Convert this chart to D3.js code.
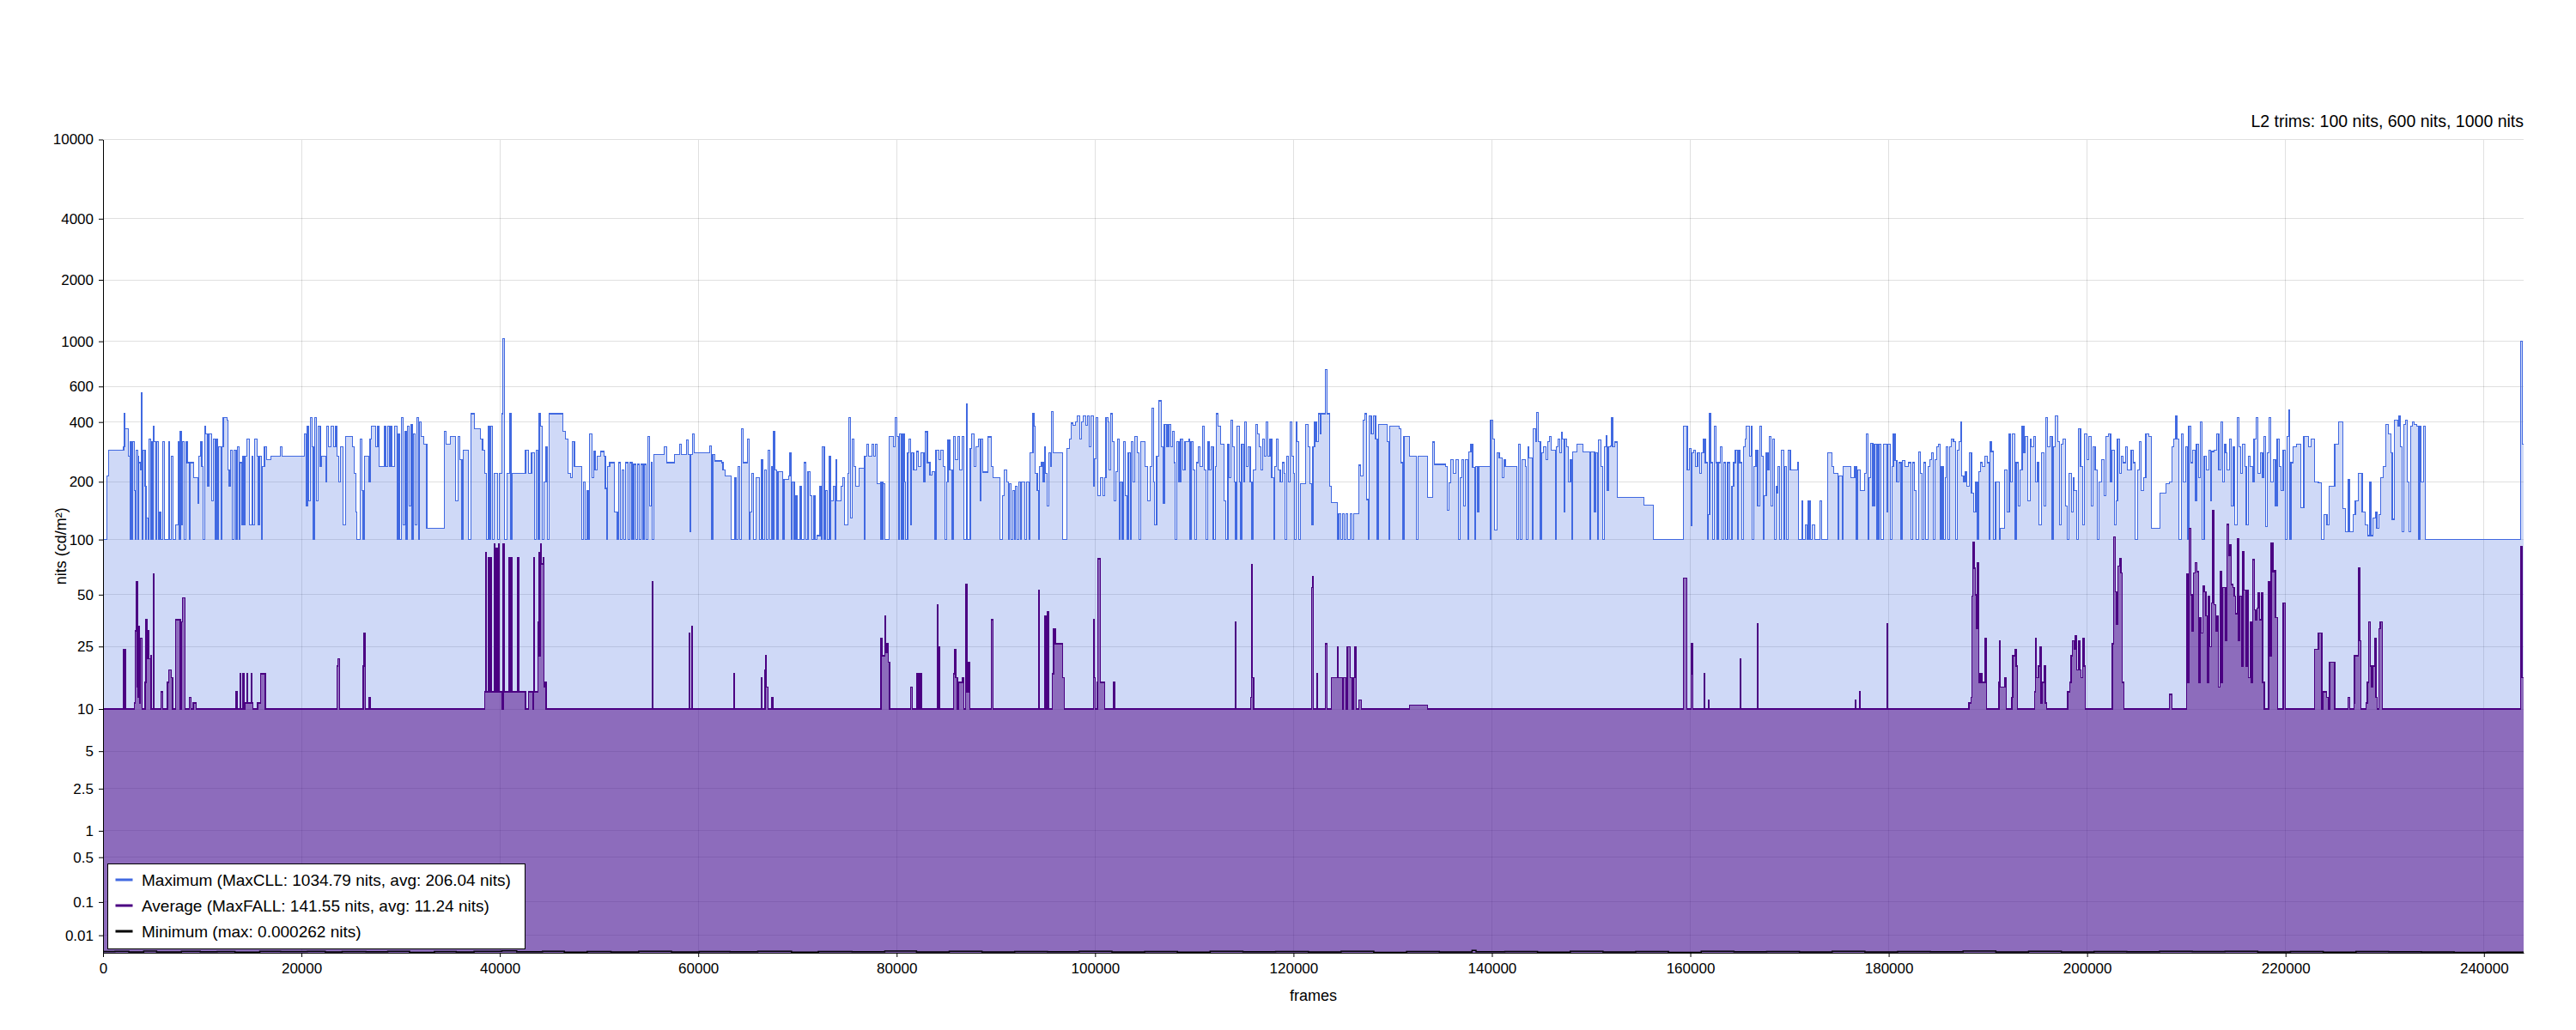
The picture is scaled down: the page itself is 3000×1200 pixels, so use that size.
<!DOCTYPE html>
<html>
<head>
<meta charset="utf-8">
<script src="https://cdn.jsdelivr.net/npm/d3@7"></script>
<style>
  body { margin: 0; background: #fff; }
  svg { display: block; font-family: "Liberation Sans", Arial, sans-serif; }
</style>
</head>
<body>
<div id="chart"></div>
<script>
// Luminance per frame as [frame, nits] steps
const maxSteps = [
  [0,100],[386,215],[540,290],[2083,300],[2160,440],[2237,370],[2546,270],[2700,100],[2777,320],[2931,100],[3008,320],[3163,180],[3240,100],[3356,290],[3471,270],[3548,100],[3626,250],[3780,230],[3857,560],[3934,100],[4011,290],[4243,190],[4320,100],[4397,130],[4513,100],[4628,330],[4783,100],[4860,320],[5014,100],[5091,380],[5168,320],[5323,100],[5400,320],[5554,100],[5708,140],[5863,100],[6017,320],[6171,100],[6634,320],[6711,100],[6865,270],[7020,100],[7328,120],[7560,320],[7675,100],[7791,360],[7907,120],[8023,320],[8177,100],[8331,320],[8485,250],[8717,100],[8794,250],[9103,210],[9565,155],[9643,270],[9797,320],[9951,240],[10105,100],[10260,380],[10375,350],[10491,190],[10645,350],[10954,160],[11108,330],[11262,100],[11417,330],[11571,100],[11648,300],[11880,100],[11957,300],[12111,420],[12497,410],[12574,230],[12728,190],[12882,290],[13037,100],[13191,290],[13422,100],[13577,300],[13731,100],[13808,250],[13962,120],[14039,270],[14194,120],[14348,270],[14502,330],[14733,120],[15042,270],[15119,120],[15273,330],[15505,270],[15659,120],[15813,270],[15968,100],[16045,240],[16276,300],[16508,260],[16893,270],[17896,300],[18050,270],
  [20288,350],[20442,150],[20596,380],[20750,160],[20904,420],[21059,300],[21213,100],[21367,420],[21521,160],[21676,380],[21907,240],[22061,270],[22447,200],[22524,380],[22755,300],[22987,380],[23218,300],[23450,380],[23604,270],[23758,200],[23912,300],[24221,120],[24453,340],[25147,300],[25301,220],[25456,140],[25610,100],[25919,330],[26073,180],[26227,100],[26382,270],[26768,200],[26922,330],[27076,380],[27462,300],[27693,380],[27848,240],[28388,380],[28542,240],[28696,380],[28850,240],[29004,380],[29159,240],[29390,380],[29622,100],[29776,350],[29930,100],[30085,420],[30239,120],[30393,360],[30548,100],[30702,380],[30856,150],[31011,390],[31165,100],[31319,350],[31473,120],[31628,420],[31782,100],[31859,400],[32090,340],[32322,310],[32630,115],[34405,360],[34559,310],[35022,340],[35562,160],[35793,340],[35947,260],[36179,100],[36333,290],[36796,100],[37105,440],[37413,370],[38030,330],[38261,290],[38493,220],[38647,100],[38801,380],[38956,100],[39110,380],[39264,100],[39419,220],[39804,100],[39959,220],[40190,440],[40306,1034.79],[40499,100],[40730,220],[40962,440],[41116,100],[41193,220],[42581,290],[42890,220],[43198,280],[43507,100],[43661,290],[43815,100],[43970,440],[44124,380],[44278,100],[44432,200],[44664,300],[44818,100],[44972,440],[46361,360],[46592,330],[46901,220],[47132,210],[47286,320],[47518,240],[48289,100],[48443,200],[48598,100],[48752,180],[48906,100],[49060,350],[49292,210],
  [49480,285],[49600,230],[49790,270],[50150,285],[50520,270],[50640,185],[50760,100],[50880,240],[51060,250],[51550,140],[51850,100],[51970,250],[52160,100],[52340,230],[52520,100],[52700,250],[52950,100],[53130,250],[53310,100],[53490,245],[53680,100],[53860,245],[54040,100],[54220,245],[54410,100],[54530,245],[54770,100],[54890,340],[55080,150],[55260,250],[55380,100],[55500,275],[56530,300],[56840,250],[57570,275],[58110,310],[58300,275],[58840,325],[58970,275],[59150,110],[59270,275],[59390,350],[59570,280],[61160,305],[61340,100],[61460,275],[61700,255],[62370,250],[62490,230],[62680,215],[63340,100],[63710,210],[63830,100],[64010,240],[64200,100],[64320,370],[64500,250],[64990,330],[65110,100],[65230,140],[65410,220],[65600,100],[65840,210],[66200,100],[66380,260],[66500,100],[66690,230],[66870,100],[67050,290],[67240,100],[67420,240],[67540,100],[67600,360],[67720,230],[67900,100],[68030,225],[68510,100],[68630,205],[69120,215],[69240,280],[69360,100],[69480,200],[69670,100],[69850,170],[69970,100],[70280,190],[70400,100],[70700,250],[70880,100],[71070,225],[71250,170],[71430,100],[71670,170],[71800,100],[71980,105],[72280,190],[72400,100],[72520,300],[72710,100],[72830,180],[73010,100],[73190,270],[73320,100],[73380,160],[73620,190],[73800,100],[73860,260],[73980,160],[74410,190],[74590,210],[74710,120],[75080,220],[75200,420],[75320,130],[75500,330],[75690,240],[75870,190],[76230,235],[76720,100],[76780,270],[76960,310],[77150,270],[77510,310],[77690,270],[77880,310],[78060,195],[78360,100],[78420,200],[78600,100],[78670,195],[78790,100],[79210,340],[79700,300],[79820,420],[80000,340],[80190,100],[80310,350],[80490,100],[80670,350],[80790,200],[80920,100],[81100,280],[81220,330],[81400,120],[81520,280],[81700,230],
  [82010,285],[82190,240],[82440,280],[82740,200],[82860,358],[83100,250],[83350,216],[83590,225],[83830,100],[83960,290],[84260,260],[84440,288],[84690,240],[84870,100],[85050,200],[85170,326],[85350,230],[85600,100],[85720,340],[85900,260],[86140,340],[86330,230],[86570,340],[86750,100],[87000,490],[87120,100],[87420,296],[87540,350],[87790,240],[87970,300],[88210,330],[88390,160],[88520,330],[88700,224],[89180,337],[89550,240],[89730,210],[90400,100],[90640,170],[90830,230],[91130,200],[91250,100],[91370,195],[91560,100],[91680,181],[91860,100],[91980,190],[92160,100],[92280,200],[92470,100],[92590,200],[92950,100],[93080,200],[93320,100],[93440,280],[93740,440],[93870,380],[93990,220],[94170,180],[94290,100],[94410,240],[94600,250],[94780,200],[94900,300],[95020,220],[95200,150],[95320,280],[95510,240],[95630,450],[95750,280],[96720,100],
  [97140,295],[97390,330],[97570,395],[97750,385],[98050,400],[98180,430],[98480,330],[98660,400],[98780,430],[99090,385],[99270,430],[99390,300],[99570,430],[99820,190],[99940,262],[100120,420],[100300,170],[100550,210],[100790,170],[100970,210],[101090,420],[101280,400],[101400,230],[101580,440],[101760,320],[101950,160],[102070,225],[102250,330],[102430,100],[102550,200],[102740,100],[102860,320],[103040,170],[103220,100],[103340,280],[103530,100],[103650,320],[103830,200],[104010,340],[104260,280],[104440,100],[104620,320],[105050,240],[105290,160],[105530,240],[105720,470],[105900,200],[106020,120],[106200,270],[106440,510],[106690,300],[106870,155],[106990,390],[107240,300],[107420,390],[107600,300],[107780,360],[107960,250],[108090,100],[108210,320],[108450,200],[108630,330],[108820,230],[109060,320],[109420,330],[109550,100],[109670,320],[109910,230],[110030,100],[110210,250],[110400,300],[110580,240],[110820,380],[111000,230],[111190,100],[111370,320],[111490,230],[111730,300],[111920,100],[112100,240],[112220,440],[112400,380],[112650,310],[113010,160],[113190,100],[113380,310],[113500,210],[113680,410],[113860,300],[114040,200],[114170,100],[114290,380],[114530,200],[114650,100],[114770,310],[114960,200],[115080,400],[115260,240],[115440,300],[115630,200],[115810,100],[115930,230],[116230,390],[116360,350],[116540,300],[116720,230],[116900,330],[117080,270],[117210,400],[117390,270],[117630,330],[117810,210],[118000,100],[118120,240],[118300,330],[118480,230],[118670,200],[118850,250],[119030,220],[119150,100],[119330,270],[119520,200],[119640,400],[119820,270],[120000,220],[120120,100],[120250,400],[120370,320],[120550,100],[120670,195],[121220,390],[121460,300],[121640,195],[121830,120],[121950,300],[122130,400],[122310,320],[122500,440],[122680,350],[122800,440],[123230,730],[123410,440],[123650,190],[123830,156],[124440,100],[124560,137],[124740,100],[124930,137],[125110,100],[125290,137],[125480,100],[125720,137],[125900,100],[126080,137],[126570,243],[126750,215],[126990,410],[127180,440],[127360,162],[127540,100],[127660,430],[127840,350],[128090,430],[128270,330],[128450,100],[128580,390],[129430,320],[129610,100],[129730,380],[130640,370],[130830,250],[131010,100],[131130,340],[131680,270],[132410,100],[132530,270],[133500,166],[134050,318],[134230,245],[135320,240],[135510,142],[135690,197],[135870,260],[136120,220],[136360,260],[136600,100],[136780,210],[136970,260],[137150,150],[137330,260],[137570,100],[137700,283],[137880,310],[138060,237],[138240,100],[138370,240],[138550,140],[138670,240],[139820,100],[139880,410],[140070,330],[140250,112],[140490,280],[140740,265],[141040,210],[141220,260],[141340,240],[142500,100],[142680,310],[142860,100],[143050,260],[143350,240],[143470,100],[143650,300],
  [143730,265],[144040,100],[144160,370],[144400,320],[144520,447],[144700,320],[144890,100],[145010,280],[145190,300],[145430,260],[145610,320],[145820,340],[146000,290],[146400,100],[146520,300],[146640,330],[146820,280],[147000,356],[147130,330],[147250,140],[147370,330],[147560,300],[147740,200],[147920,260],[148040,100],[148160,283],[148590,310],[149200,283],[149860,100],[149980,283],[150350,140],[150470,280],[150650,100],[150770,326],[151010,240],[151200,100],[151320,300],[151500,343],[151620,180],[151740,300],[151930,305],[152050,420],[152170,300],[152410,318],[152650,166],[155330,151],[156300,100],[159330,380],[159700,230],[159880,296],[160060,118],[160180,280],[160360,290],[160550,240],[160730,280],[160970,220],[161150,280],[161340,330],[161520,250],[161700,100],[161820,135],[161940,440],[162060,250],[162250,100],[162430,380],[162610,250],[162730,100],[162850,250],[163040,300],[163220,100],[163340,250],[163580,100],[163760,250],[164010,100],[164190,190],[164370,250],[164550,290],[164730,100],[164860,290],[164980,250],[165160,100],[165340,300],[165520,330],[165650,380],[165950,270],[166130,380],[166250,100],[166430,240],[166620,290],[166800,150],[166980,380],[167160,270],[167340,100],[167470,170],[167650,280],[167830,230],[167950,340],[168130,150],[168320,330],[168500,100],[168620,190],[168740,175],[168860,240],[168980,100],[169170,290],[169410,100],[169530,240],[169710,100],[169890,290],[170080,230],[170800,250],[170930,100],[171230,160],[171350,100],[171590,120],[171780,100],[171900,160],[172080,100],[172320,120],[172560,100],[173050,160],[173230,100],[173840,280],[174260,240],[174450,220],[174870,100],[174990,215],[175300,100],[175420,240],[176210,210],[176570,240],[176750,100],[176870,230],[177120,180],[177600,220],[177720,350],[177910,100],[178030,210],[178150,314],[178390,150],[178570,310],[178820,100],[179000,310],[179240,100],[179480,310],[179790,140],[179910,310],[180150,100],[180330,240],[180460,348],[180640,257],[180820,200],[181000,250],[181250,100],[181370,257],[181670,240],[181970,250],[182220,100],[182400,250],[182580,180],[182760,100],[183010,283],[183190,220],[183370,100],[183550,250],[183730,100],[183980,240],[184160,260],[184340,280],[184520,100],[184640,260],[184830,300],[185010,310],[185190,100],[185310,240],[185490,100],[185680,210],[185800,300],[185980,100],[186160,300],[186340,330],[186530,320],[186710,100],[186890,290],[187070,320],[187250,400],[187380,215],[187560,200],[187740,225],[187860,190],[188100,280],[188350,175],[188530,140],[188770,200],[188950,100],[189080,225],[189260,250],[189440,240],[189680,270],[189930,250],[190110,100],[190230,320],
  [190330,285],[190520,100],[190760,200],[191140,100],[191220,115],[191680,230],[191920,140],[192150,350],[192300,200],[192460,350],[192690,100],[192840,250],[193080,150],[193230,230],[193460,380],[193620,280],[193770,340],[194000,160],[194240,330],[194390,300],[194620,340],[194780,200],[195010,250],[195170,120],[195400,280],[195630,150],[195860,420],[196020,300],[196250,340],[196480,100],[196630,300],[196790,430],[197020,320],[197250,120],[197410,310],[197560,330],[197790,150],[198030,100],[198180,220],[198410,140],[198570,210],[198720,180],[198960,100],[199110,370],[199340,240],[199570,120],[199730,350],[199960,260],[200190,340],[200430,150],[200580,300],[200810,230],[201040,100],[201200,200],[201430,260],[201740,170],[201900,340],[202130,350],[202360,200],[202510,290],[202750,120],[202900,160],[203060,330],[203290,220],[203440,270],[203600,250],[203910,300],[204060,230],[204450,290],[204680,250],[204840,100],[205070,230],[205300,320],[205460,180],[205690,210],[205920,350],[206230,340],[206460,115],[207310,175],[207930,195],[208320,200],[208550,300],[208700,330],[208940,430],[209090,330],[209240,100],[209480,350],[209710,200],[209940,300],[210100,100],[210250,380],[210480,250],[210640,290],[210870,160],[211030,310],[211260,210],[211410,400],[211570,100],[211800,270],[212030,230],[212260,290],[212420,160],[212570,285],[212800,290],[213040,350],[213270,230],[213500,400],[213650,200],[213810,310],[213960,280],[214120,230],[214350,330],[214510,150],[214740,300],[214890,120],[215120,420],[215280,300],[215510,220],[215670,310],[215900,240],[216050,120],[216290,270],[216440,240],[216670,200],[216830,330],[217060,420],[217210,220],[217450,280],[217680,210],[217830,340],[217990,117],[218140,280],[218370,420],[218530,200],[218760,260],[218990,150],[219150,330],[219380,240],[219530,180],[219770,290],[220000,100],[220150,340],[220310,460],[220380,100],[220540,250],[220770,300],[221080,310],[221550,147],[221850,340],[222310,300],[222550,330],[222940,200],[223320,197],[223630,100],[223870,135],[224180,120],[224410,190],[224950,310],[225340,400],[225800,145],[226030,110],[226340,205],[226500,110],[226810,135],[227040,160],[227350,220],[227730,140],[228040,120],[228280,105],[228430,200],[228590,105],[228820,130],[229050,140],[229200,115],[229440,135],[229590,210],[229820,240],[230130,390],[230360,350],[230600,280],[230750,128],[230980,410],[231290,380],[231450,430],[231600,300],[231760,110],[231910,390],[232070,410],[232300,200],[232450,110],[232610,380],[232760,400],[232990,390],[233230,380],[233380,100],[233530,380],[233690,200],[233920,380],[234070,100],[243670,1000],[243880,310],[244000,310]
];

const avgSteps = [
  [0,10],[2080,24],[2240,10],[3160,11],[3240,31],[3320,52],[3390,59],[3470,14],[3550,12],[3630,33],[3700,11],[3780,28],[3930,10],[4240,15],[4320,36],[4440,21],[4550,31],[4630,21],[4780,22],[4860,10],[5090,65],[5170,10],[5860,13],[6020,10],[6480,15],[6630,18],[6870,16],[7020,10],[7330,36],[7790,10],[7870,35],[8020,48],[8250,10],[8720,12],[8870,10],[9100,11],[9410,10],[13350,13],[13500,10],[13810,17],[13890,10],[14120,17],[14190,10],[14350,11],[14500,17],[14580,11],[14970,17],[15040,11],[15120,10],[15580,11],[15890,17],[16350,10],[23600,19],[23680,21],[23840,10],[26230,19],[26310,30],[26460,10],[26770,12],[26920,10],
  [38490,13],[38570,85],[38650,13],[38880,80],[38960,13],[39110,80],[39190,13],[39420,95],[39500,13],[39650,90],[39730,13],[39880,95],[39960,13],[40190,10],[40340,95],[40420,13],[40880,80],[40960,13],[41110,80],[41190,13],[41810,80],[41890,13],[42580,10],[42890,13],[43350,10],[43430,80],[43510,13],[43820,35],[43890,22],[43970,85],[44050,22],[44120,95],[44200,74],[44350,80],[44430,14],[44590,15],[44660,10],
  [55380,59],[55440,10],[59090,30],[59150,10],[59330,33],[59390,10],[63590,17],[63650,10],[66380,16],[66440,10],[66750,18],[66810,22],[66870,14],[67050,10],[67420,12],[67540,10],
  [78420,28],[78540,22],[78790,38],[78910,23],[79030,26],[79150,20],[79270,10],[81400,14],[81580,10],[82010,17],[82130,10],[82310,17],[82500,10],[84140,44],[84200,25],[84320,10],[85720,17],[85840,24],[85960,16],[86140,10],[86260,15],[86630,16],[86750,10],[86930,57],[87060,13],[87240,20],[87360,10],[89550,36],[89730,10],
  [94290,53],[94410,10],[94960,38],[95080,10],[95200,40],[95320,10],[95690,17],[95810,32],[95990,26],[96720,16],[96900,10],[99820,36],[99880,16],[100000,10],[100240,15],[100300,79],[100550,15],[100970,10],[101880,15],[102010,10],[114110,35],[114170,10],[115690,12],[115750,73],[115810,16],[116000,10],[121830,55],[121950,63],[122010,10],[122370,17],[122440,10],[123230,26],[123410,10],[123830,16],[124440,25],[124500,16],[124930,10],[125050,16],[125290,10],[125410,25],[125720,16],[125900,10],[126020,16],[126200,25],[126330,10],[126570,11.5],[126870,10],[131680,10.6],[133500,10],
  [159330,62],[159640,10],[160060,17],[160120,26],[160240,10],[161400,17],[161460,10],[161820,11.5],[161880,10],[165040,21],[165100,10],[166740,34],[166800,12],[166860,10],[176630,11.5],[176690,10],[177060,13],[177120,10],[179850,34],[179910,10],
  [188100,11],[188280,12],[188410,49],[188470,97],[188590,70],[188710,50],[188830,32],[188950,75],[189080,15],[189200,17],[189380,15],[189740,28],[189860,10],
  [191130,15],[191210,27],[191270,14],[191710,16],[191850,10],[192420,12],[192500,22],[192720,24],[192860,19],[193000,10],[194720,13],[194790,28],[194860,16],[195080,19],[195230,25],[195370,11],[195510,15],[195660,19],[195800,11],[195940,10],[198030,13],[198240,15],[198380,22],[198530,27],[198670,24],[198810,29],[198960,18],[199100,27],[199250,18],[199390,16],[199530,28],[199680,19],[199820,10],[202550,26],[202690,103],[202840,52],[202980,34],[203120,72],[203270,79],[203410,66],[203550,15],[203700,10],[208290,12.5],[208580,10],
  [210020,65],[210160,15],[210300,115],[210450,50],[210590,31],[210730,66],[210880,75],[211090,67],[211240,15],[211380,37],[211520,30],[211670,56],[211810,52],[211960,38],[212100,15],[212240,49],[212380,25],[212530,45],[212670,141.55],[212820,44],[212960,31],[213100,38],[213250,14],[213390,67],[213540,15],[213680,55],[213970,27],[214110,120],[214250,82],[214400,94],[214540,57],[214680,55],[214830,49],[214970,39],[215120,101],[215260,27],[215400,49],[215550,19],[215690,86],[215830,53],[215980,19],[216120,53],[216260,16],[216410,35],[216550,15],[216690,78],[216840,41],[216980,36],[217130,42],[217270,51],[217410,36],[217560,51],[217700,15],[217850,10],[218280,59],[218420,22],[218560,96],[218710,67],[218850,68],[218990,37],[219210,10],[219780,45],[219990,10],
  [222940,24],[223300,30],[223660,10],[223800,13],[224160,12],[224300,10],[224440,20],[224950,10],[226310,12],[226460,10],[226890,11],[226960,22],[227320,70],[227460,27],[227610,10],[228110,11],[228260,15],[228400,35],[228540,19],[228690,14],[228830,19],[228970,28],[229110,12],[229260,10],[229400,32],[229540,35],[229760,10],[243690,92],[243830,16],[244000,16]
];

const minSteps = [
  [0,0.00008],[1200,0.00012],[2600,0.00005],[4100,0.00015],[5400,0.00004],[7900,0.00012],[9800,0.00006],[11500,0.0001],[13300,0.00003],[15800,0.00012],[17900,0.00008],[20600,0.00013],[22400,0.00004],[24100,0.0001],[26500,0.00006],[28700,0.00012],[30900,0.00002],[33400,0.00009],[35600,0.00005],[37400,0.00012],[40200,0.00018],[41700,0.00007],[44300,0.00012],[46500,0.00003],[48800,0.0001],[51200,0.00005],[54000,0.00012],[57300,0.00004],[60100,0.0001],[63200,0.00006],[66000,0.00012],[69400,0.00003],[72100,0.0001],[75500,0.00007],[78800,0.00014],[82000,0.00005],[85300,0.00011],[88600,0.00004],[91900,0.0001],[95200,0.00006],[98400,0.00012],[101700,0.00005],[105000,0.0001],[108300,0.00003],[111600,0.00012],[114900,0.00006],[118200,0.0001],[121500,0.00004],[124800,0.00012],[128100,0.00002],[131400,0.00008],[134700,0.00004],[138000,0.000262],[138400,0.00006],[141300,0.0001],[144600,0.00003],[147900,0.00011],[151200,0.00005],[154500,0.00009],[157800,0.00002],[161100,0.00012],[164400,0.00006],[167700,0.0001],[171000,0.00004],[174300,0.00012],[177600,0.00005],[180900,0.0001],[184200,0.00007],[187500,0.00014],[190800,0.00005],[194100,0.00011],[197400,0.00004],[200700,0.0001],[204000,0.00006],[207300,0.00012],[210600,0.00008],[213900,0.00013],[217200,0.00005],[220500,0.0001],[223800,0.00003],[227100,0.00009],[230400,0.00006],[233700,0.00004],[237000,0.00002],[240300,0.00003],[244000,0.00003]
];

const yTicks = [0.01, 0.1, 0.5, 1, 2.5, 5, 10, 25, 50, 100, 200, 400, 600, 1000, 2000, 4000, 10000];
const xTicks = [0, 20000, 40000, 60000, 80000, 100000, 120000, 140000, 160000, 180000, 200000, 220000, 240000];
const frameCount = 244000;

const legendItems = [
  {label: "Maximum (MaxCLL: 1034.79 nits, avg: 206.04 nits)", color: "royalblue"},
  {label: "Average (MaxFALL: 141.55 nits, avg: 11.24 nits)", color: "indigo"},
  {label: "Minimum (max: 0.000262 nits)", color: "black"}
];
const captionText = "L2 trims: 100 nits, 600 nits, 1000 nits";

const width = 3000;
const height = 1200;
const margin = {left: 120, right: 61, top: 162.5, bottom: 90};
const font = '"Liberation Sans", Arial, sans-serif';

// ST 2084 inverse EOTF, nits -> signal 0..1
function pq(nits) {
    const m1 = 0.1593017578125, m2 = 78.84375;
    const c1 = 0.8359375, c2 = 18.8515625, c3 = 18.6875;
    const yp = Math.pow(Math.max(nits, 0) / 10000, m1);
    return Math.pow((c1 + c2 * yp) / (1 + c3 * yp), m2);
}

function drawChart() {
    const svg = d3.select("#chart").append("svg")
        .attr("width", width)
        .attr("height", height)
        .style("font-family", font);

    svg.append("rect").attr("width", width).attr("height", height).attr("fill", "#fff");

    const x = d3.scaleLinear().domain([0, frameCount]).range([margin.left, width - margin.right]);
    const ySignal = d3.scaleLinear().domain([0, 1]).range([height - margin.bottom, margin.top]);
    const y = v => ySignal(pq(v));

    // Grid
    const grid = svg.append("g")
        .attr("stroke", "#000").attr("stroke-opacity", 0.12).attr("stroke-width", 1)
        .attr("shape-rendering", "crispEdges");
    grid.selectAll("line.h").data(yTicks).join("line")
        .attr("class", "h")
        .attr("x1", margin.left).attr("x2", width - margin.right)
        .attr("y1", d => y(d)).attr("y2", d => y(d));
    grid.selectAll("line.v").data(xTicks.filter(d => d > 0)).join("line")
        .attr("class", "v")
        .attr("x1", d => x(d)).attr("x2", d => x(d))
        .attr("y1", margin.top).attr("y2", height - margin.bottom);

    const area = d3.area()
        .curve(d3.curveStepAfter)
        .x(d => x(d[0]))
        .y0(height - margin.bottom)
        .y1(d => y(d[1]));
    const line = d3.line()
        .curve(d3.curveStepAfter)
        .x(d => x(d[0]))
        .y(d => y(d[1]));

    // Maximum
    svg.append("path").datum(maxSteps)
        .attr("d", area).attr("fill", "royalblue").attr("fill-opacity", 0.25);
    svg.append("path").datum(maxSteps)
        .attr("d", line).attr("fill", "none").attr("stroke", "royalblue")
        .attr("stroke-width", 1.2).attr("shape-rendering", "crispEdges");

    // Average
    svg.append("path").datum(avgSteps)
        .attr("d", area).attr("fill", "indigo").attr("fill-opacity", 0.5);
    svg.append("path").datum(avgSteps)
        .attr("d", line).attr("fill", "none").attr("stroke", "indigo")
        .attr("stroke-width", 1.4).attr("shape-rendering", "crispEdges");

    // Minimum
    svg.append("path").datum(minSteps)
        .attr("d", line).attr("fill", "none").attr("stroke", "black").attr("stroke-width", 1.5);

    // Axes
    const yAxis = d3.axisLeft(ySignal)
        .tickValues(yTicks.map(pq))
        .tickFormat((d, i) => String(yTicks[i]))
        .tickSize(5).tickSizeOuter(0).tickPadding(6);
    const gy = svg.append("g").attr("transform", `translate(${margin.left},0)`).call(yAxis);

    const xAxis = d3.axisBottom(x)
        .tickValues(xTicks)
        .tickFormat(d3.format("d"))
        .tickSize(5).tickSizeOuter(0).tickPadding(7);
    const gx = svg.append("g").attr("transform", `translate(0,${height - margin.bottom})`).call(xAxis);

    [gx, gy].forEach(g => {
        g.attr("font-family", font).attr("font-size", 17);
        g.selectAll("text").attr("fill", "#000");
        g.selectAll("line").attr("stroke", "#000");
        g.select(".domain").attr("stroke", "#000");
    });

    // Axis titles
    svg.append("text")
        .attr("x", (margin.left + width - margin.right) / 2)
        .attr("y", 1166)
        .attr("text-anchor", "middle")
        .attr("font-size", 18)
        .text("frames");
    svg.append("text")
        .attr("transform", `translate(77,${(margin.top + height - margin.bottom) / 2}) rotate(-90)`)
        .attr("text-anchor", "middle")
        .attr("font-size", 18)
        .text("nits (cd/m²)");

    // Caption
    svg.append("text")
        .attr("x", width - margin.right)
        .attr("y", 147.5)
        .attr("text-anchor", "end")
        .attr("font-size", 19.5)
        .text(captionText);

    // Legend
    const legend = svg.append("g").attr("transform", "translate(125.5,1006.5)");
    legend.append("rect")
        .attr("width", 486).attr("height", 99)
        .attr("fill", "#fff").attr("stroke", "#000").attr("stroke-width", 1);
    const rows = legend.selectAll("g").data(legendItems).join("g")
        .attr("transform", (d, i) => `translate(0,${18.5 + i * 30})`);
    rows.append("rect")
        .attr("x", 9).attr("y", -1.5).attr("width", 20).attr("height", 3)
        .attr("fill", d => d.color);
    rows.append("text")
        .attr("x", 39.5).attr("dy", "0.35em")
        .attr("font-size", 19)
        .text(d => d.label);
}

drawChart();
</script>
</body>
</html>
